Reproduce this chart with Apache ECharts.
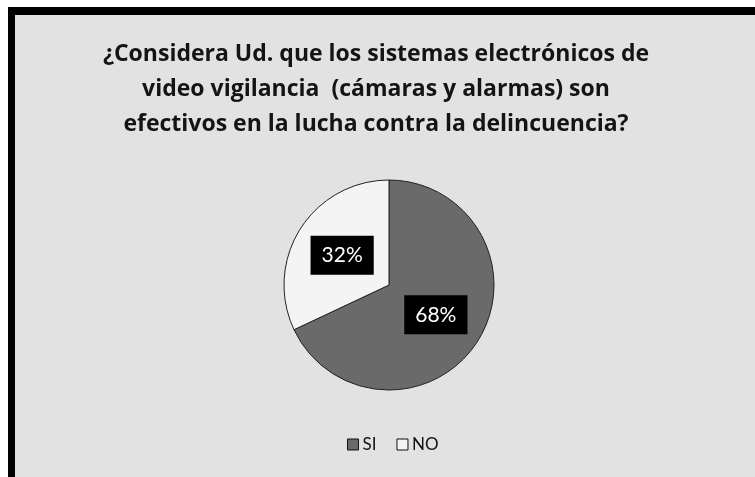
<!DOCTYPE html>
<html>
<head>
<meta charset="utf-8">
<script src="https://cdn.jsdelivr.net/npm/echarts@6/dist/echarts.min.js"></script>
<style>
  html, body { margin:0; padding:0; background:#ffffff; }
  #wrap { position:absolute; left:0; top:0; width:755px; height:477px; background:#ffffff; overflow:hidden; }
  #chart { position:absolute; left:8px; top:7px; width:747px; height:470px; box-sizing:border-box; border-top:8px solid #000; border-left:7px solid #000; }
</style>
</head>
<body>
<div id="wrap"><div id="chart"></div></div>
<script>
const titleText = '¿Considera Ud. que los sistemas electrónicos de\nvideo vigilancia  (cámaras y alarmas) son\nefectivos en la lucha contra la delincuencia?';
const categories = ['SI', 'NO'];
const values = [68, 32];
const sliceColors = ['#6a6a6a', '#f4f4f4'];

const chart = echarts.init(document.getElementById('chart'), null, { renderer: 'canvas' });
// chart origin is at page (15, 15)
const ox = 15, oy = 15;
chart.setOption({
  backgroundColor: '#e2e2e2',
  animation: false,
  title: {
    text: titleText,
    left: 371 - ox,
    top: 32 - oy,
    textAlign: 'center',
    textStyle: {
      fontFamily: 'Open Sans', fontWeight: 'bold', fontSize: 23, lineHeight: 35, color: '#141414'
    }
  },
  legend: {
    left: 342 - ox,
    top: 431 - oy,
    itemWidth: 11,
    itemHeight: 11,
    itemGap: 20,
    icon: 'rect',
    textStyle: { fontFamily: 'Lato', fontSize: 17, color: '#111', padding: [0, 0, 0, -1] },
    data: categories.map((c, i) => ({
      name: c,
      itemStyle: { color: sliceColors[i], borderColor: '#111', borderWidth: 1 }
    }))
  },
  series: [{
    type: 'pie',
    center: [389 - ox, 285 - oy],
    radius: 105,
    startAngle: 90,
    clockwise: true,
    silent: true,
    itemStyle: { borderColor: '#222', borderWidth: 1 },
    label: {
      position: 'inside',
      formatter: '{d}%',
      color: '#ffffff',
      backgroundColor: '#000000',
      fontFamily: 'Lato',
      fontSize: 21,
      padding: [9, 11],
      borderRadius: 0
    },
    labelLine: { show: false },
    data: categories.map((c, i) => ({
      name: c, value: values[i], itemStyle: { color: sliceColors[i] }
    }))
  }]
});
</script>
</body>
</html>
